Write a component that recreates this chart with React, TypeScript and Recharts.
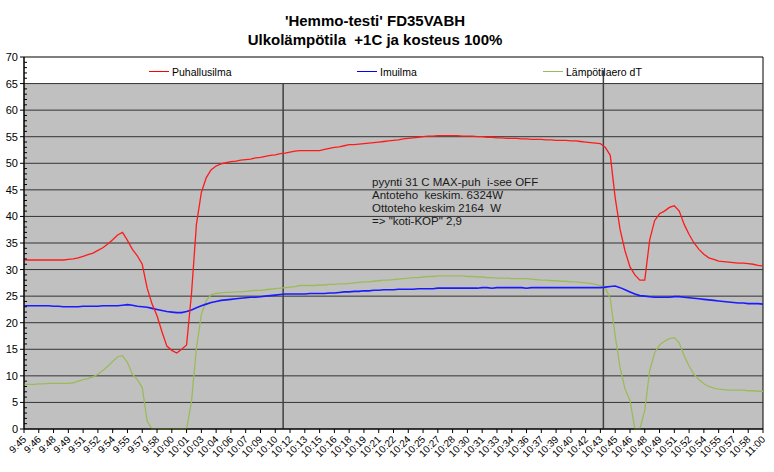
import React from 'react';
import { LineChart, Line, XAxis, YAxis, ReferenceArea, ReferenceLine } from 'recharts';

// 30-second samples from 9:45 to 11:00
const puhallusilma = [
  31.8,31.8,31.8,31.8,31.8,31.8,31.8,31.8,31.8,31.9,
  32.0,32.2,32.5,32.8,33.1,33.6,34.1,34.8,35.6,36.5,
  37.0,35.5,33.8,32.6,31.0,26.5,23.5,21.3,18.3,15.6,
  14.8,14.3,15.0,15.8,25.5,38.5,44.5,47.3,48.8,49.5,
  49.9,50.1,50.3,50.4,50.6,50.7,50.8,51.0,51.1,51.3,
  51.5,51.6,51.8,51.9,52.1,52.3,52.4,52.4,52.4,52.4,
  52.4,52.6,52.8,53.0,53.1,53.3,53.5,53.5,53.6,53.7,
  53.8,53.9,54.0,54.1,54.2,54.3,54.4,54.6,54.7,54.8,
  54.9,55.0,55.1,55.1,55.2,55.2,55.2,55.2,55.2,55.1,
  55.1,55.1,55.0,55.0,54.9,54.9,54.8,54.8,54.7,54.7,
  54.7,54.6,54.6,54.5,54.5,54.5,54.4,54.4,54.3,54.3,
  54.3,54.2,54.2,54.1,54.0,53.9,53.8,53.7,53.0,51.5,
  43.5,37.5,33.5,30.5,29.0,28.0,28.0,35.6,39.2,40.5,
  41.0,41.7,42.0,41.0,38.5,36.6,35.0,33.8,32.9,32.2,
  31.9,31.6,31.5,31.4,31.3,31.2,31.2,31.1,31.0,30.8,30.7,
];

const imuilma = [
  23.2,23.2,23.2,23.2,23.2,23.2,23.1,23.1,23.0,23.0,
  23.0,23.0,23.1,23.1,23.1,23.1,23.2,23.2,23.2,23.2,
  23.3,23.4,23.3,23.1,23.0,22.9,22.7,22.5,22.3,22.1,
  22.0,21.9,21.9,22.1,22.4,22.8,23.2,23.5,23.8,24.0,
  24.2,24.3,24.4,24.5,24.6,24.7,24.8,24.8,24.9,25.0,
  25.1,25.2,25.3,25.4,25.4,25.4,25.4,25.4,25.5,25.5,
  25.5,25.5,25.6,25.6,25.7,25.8,25.8,25.9,25.9,26.0,
  26.0,26.1,26.1,26.2,26.2,26.2,26.3,26.3,26.3,26.3,
  26.4,26.4,26.4,26.4,26.5,26.5,26.5,26.5,26.5,26.5,
  26.5,26.5,26.5,26.6,26.6,26.5,26.6,26.6,26.6,26.6,
  26.6,26.6,26.5,26.6,26.6,26.6,26.6,26.6,26.6,26.6,
  26.6,26.6,26.6,26.6,26.6,26.6,26.6,26.6,26.7,26.8,
  26.9,26.6,26.2,25.8,25.4,25.1,25.0,24.9,24.8,24.8,
  24.8,24.8,24.9,24.9,24.8,24.7,24.6,24.5,24.4,24.3,
  24.2,24.1,24.0,23.9,23.8,23.7,23.7,23.6,23.6,23.6,23.5,
];

const lampotilaero = [
  8.4,8.4,8.4,8.5,8.5,8.6,8.6,8.6,8.6,8.6,
  8.7,9.0,9.3,9.5,9.8,10.3,11.0,11.8,12.7,13.6,
  13.8,12.5,10.3,9.3,7.8,1.5,0,0,0,0,
  0,0,0,0,5.2,15.2,21.5,24.2,25.3,25.5,
  25.6,25.7,25.7,25.8,25.8,25.9,26.0,26.1,26.1,26.2,
  26.3,26.4,26.5,26.6,26.7,26.8,27.0,27.0,27.0,27.0,
  27.1,27.1,27.2,27.2,27.3,27.3,27.4,27.5,27.6,27.7,
  27.7,27.8,27.9,28.0,28.0,28.1,28.2,28.3,28.4,28.5,
  28.5,28.6,28.7,28.7,28.8,28.8,28.8,28.8,28.8,28.8,
  28.7,28.7,28.6,28.6,28.5,28.5,28.4,28.4,28.4,28.3,
  28.3,28.3,28.3,28.2,28.1,28.0,28.0,27.9,27.9,27.8,
  27.8,27.7,27.7,27.6,27.5,27.4,27.2,27.0,26.6,24.5,
  17.5,11.5,7.5,5.4,0,0,3.5,11.0,14.3,15.8,
  16.5,17.0,17.2,16.2,13.8,11.8,10.3,9.3,8.5,8.0,
  7.7,7.5,7.4,7.3,7.3,7.3,7.3,7.2,7.2,7.1,7.1,
];

const tickLabels = [
  '9:45','9:46','9:48','9:49','9:51','9:52','9:54','9:55','9:57','9:58',
  '10:00','10:01','10:03','10:04','10:06','10:07','10:09','10:10','10:12','10:13',
  '10:15','10:16','10:18','10:19','10:21','10:22','10:24','10:25','10:27','10:28',
  '10:30','10:31','10:33','10:34','10:36','10:37','10:39','10:40','10:42','10:43',
  '10:45','10:46','10:48','10:49','10:51','10:52','10:54','10:55','10:57','10:58',
  '11:00',
];
const tickStep = 1.5; // minutes between labelled ticks
const sampleStep = 0.5; // minutes between samples
const xTicks = tickLabels.map((_, i) => i * tickStep);
const yTicks = Array.from({ length: 71 }, (_, i) => i);
const gridValues = [5, 10, 15, 20, 25, 30, 35, 40, 45, 50, 55, 60, 65];
const markerTimes = [26.3, 58.8];

const annotation = [
  'pyynti 31 C MAX-puh  i-see OFF',
  'Antoteho  keskim. 6324W',
  'Ottoteho keskim 2164  W',
  '=> "koti-KOP" 2,9',
];

const data = puhallusilma.map((p, i) => ({
  m: i * sampleStep,
  puhallusilma: p,
  imuilma: imuilma[i],
  lampotilaero: lampotilaero[i],
}));

const renderYTick = (props: any) => {
  const { x, y, payload } = props;
  const v = payload.value;
  const major = v % 5 === 0;
  return (
    <g>
      {major ? (
        <line x1={x - 4} x2={x} y1={y} y2={y} stroke="#000" />
      ) : (
        <line x1={x} x2={x + 3} y1={y} y2={y} stroke="#000" />
      )}
      {major && (
        <text x={x - 6} y={y} dy={4} textAnchor="end" fontSize={11} fill="#000">
          {v}
        </text>
      )}
    </g>
  );
};

const renderXTick = (props: any) => {
  const { x, y, payload } = props;
  const label = tickLabels[Math.round(payload.value / tickStep)];
  return (
    <g transform={`translate(${x + 3},${y + 7})`}>
      <text transform="rotate(-45)" textAnchor="end" fontSize={10} fill="#000">
        {label}
      </text>
    </g>
  );
};

const legendItems = [
  { name: 'Puhallusilma', color: '#ff0000', lineX: 149, textX: 172 },
  { name: 'Imuilma', color: '#0000ff', lineX: 357, textX: 380 },
  { name: 'Lämpötilaero dT', color: '#9bbb59', lineX: 543, textX: 566 },
];

export default function App() {
  return (
    <div
      style={{
        position: 'absolute',
        left: 0,
        top: 0,
        width: 774,
        height: 472,
        background: '#fff',
        fontFamily: '"Liberation Sans", Arial, sans-serif',
      }}
    >
      <LineChart
        width={774}
        height={472}
        data={data}
        margin={{ top: 57, right: 11, bottom: 0, left: 0 }}
      >
        <ReferenceArea x1={0} x2={75} y1={0} y2={65} fill="#c0c0c0" fillOpacity={1} stroke="none" />
        {gridValues.map((v) => (
          <ReferenceLine key={v} y={v} stroke="#333" strokeWidth={1} />
        ))}
        <ReferenceArea x1={0} x2={75} y1={0} y2={70} fill="none" stroke="#000" strokeWidth={1} />
        <ReferenceLine
          segment={[{ x: markerTimes[0], y: 0 }, { x: markerTimes[0], y: 65 }]}
          stroke="#404040"
          strokeWidth={1.5}
        />
        <ReferenceLine
          segment={[{ x: markerTimes[1], y: 0 }, { x: markerTimes[1], y: 67.5 }]}
          stroke="#404040"
          strokeWidth={1.5}
        />
        <XAxis
          type="number"
          dataKey="m"
          domain={[0, 75]}
          ticks={xTicks}
          interval={0}
          height={43}
          tickSize={4}
          tickMargin={0}
          axisLine={{ stroke: '#000' }}
          tickLine={{ stroke: '#000' }}
          tick={renderXTick}
        />
        <YAxis
          type="number"
          domain={[0, 70]}
          ticks={yTicks}
          interval={0}
          width={24}
          tickSize={0}
          tickMargin={0}
          axisLine={{ stroke: '#000' }}
          tickLine={false}
          tick={renderYTick}
        />
        <Line
          type="linear"
          dataKey="lampotilaero"
          stroke="#9bbb59"
          strokeWidth={1.3}
          dot={false}
          isAnimationActive={false}
        />
        <Line
          type="linear"
          dataKey="imuilma"
          stroke="#1a1aff"
          strokeWidth={1.6}
          dot={false}
          isAnimationActive={false}
        />
        <Line
          type="linear"
          dataKey="puhallusilma"
          stroke="#ff1a1a"
          strokeWidth={1.3}
          dot={false}
          isAnimationActive={false}
        />
      </LineChart>

      <div
        style={{
          position: 'absolute',
          left: 0,
          top: 11,
          width: 750,
          textAlign: 'center',
          fontSize: 15,
          fontWeight: 'bold',
          lineHeight: '19px',
          color: '#000',
        }}
      >
        <div>'Hemmo-testi' FD35VABH</div>
        <div>Ulkolämpötila&nbsp; +1C ja kosteus 100%</div>
      </div>

      {legendItems.map((it) => (
        <React.Fragment key={it.name}>
          <div
            style={{
              position: 'absolute',
              left: it.lineX,
              top: 71,
              width: 20,
              height: 0,
              borderTop: `1.5px solid ${it.color}`,
            }}
          />
          <div
            style={{
              position: 'absolute',
              left: it.textX,
              top: 65,
              fontSize: 10.5,
              lineHeight: '14px',
              color: '#000',
              whiteSpace: 'pre',
            }}
          >
            {it.name}
          </div>
        </React.Fragment>
      ))}

      <div
        style={{
          position: 'absolute',
          left: 372,
          top: 176,
          fontSize: 11.5,
          lineHeight: '13px',
          color: '#1a1a1a',
          whiteSpace: 'pre',
        }}
      >
        {annotation.map((t) => (
          <div key={t}>{t}</div>
        ))}
      </div>
    </div>
  );
}
